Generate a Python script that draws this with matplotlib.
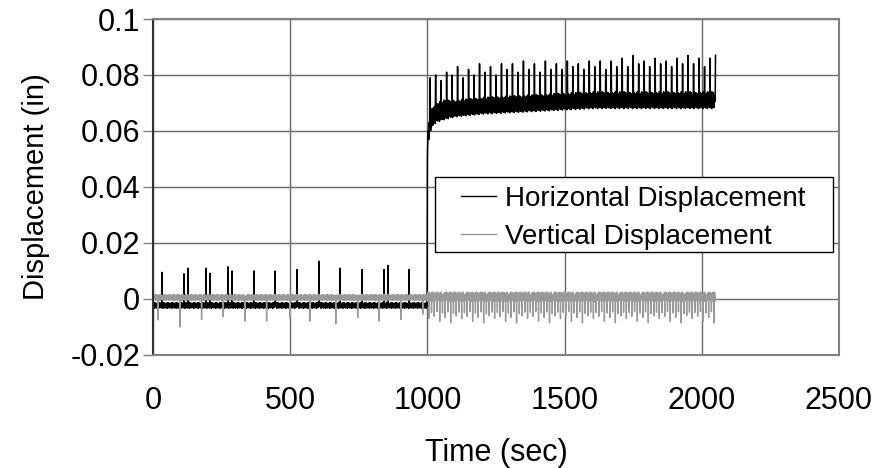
import numpy as np
import matplotlib
matplotlib.use("Agg")
import matplotlib.pyplot as plt
from matplotlib.patches import Rectangle

# ---------------- data ----------------
# sampling of the record (s)
t_start, t_end, t_step = 0.0, 2050.0, 1.0

# Horizontal displacement: band envelope (in)
h_env_t    = [0, 999, 1000, 1003, 1008, 1015, 1030, 1060, 1100, 1200, 1400, 1600, 1800, 2050]
h_env_low  = [-0.0033, -0.0033, 0.050, 0.055, 0.059, 0.061, 0.063, 0.064, 0.065, 0.066, 0.067, 0.068, 0.068, 0.068]
h_env_high = [-0.0013, -0.0013, 0.055, 0.063, 0.066, 0.068, 0.070, 0.071, 0.071, 0.072, 0.073, 0.074, 0.074, 0.074]

# Horizontal displacement: spikes before 1000 s
h_spk1_t = [33, 113, 128, 193, 208, 273, 288, 368, 445, 525, 605, 681, 762, 842, 856, 933]
h_spk1_v = [0.0095, 0.0090, 0.0110, 0.0110, 0.0092, 0.0115, 0.0100, 0.0100, 0.0100, 0.0105,
            0.0135, 0.0110, 0.0105, 0.0105, 0.0120, 0.0105]

# Horizontal displacement: spikes after 1000 s (every ~20 s)
h_spk2_t0, h_spk2_dt = 1010, 20
h_spk2_v = [0.079, 0.080, 0.078, 0.081, 0.080, 0.083, 0.079, 0.082, 0.080, 0.084,
            0.081, 0.083, 0.080, 0.084, 0.082, 0.084, 0.081, 0.085, 0.082, 0.084,
            0.081, 0.085, 0.082, 0.084, 0.082, 0.085, 0.083, 0.084, 0.082, 0.085,
            0.083, 0.085, 0.082, 0.085, 0.083, 0.086, 0.083, 0.087, 0.084, 0.085,
            0.083, 0.086, 0.084, 0.085, 0.083, 0.086, 0.084, 0.087, 0.084, 0.086,
            0.083, 0.086, 0.087]

# Vertical displacement: band envelope (in)
v_env_t    = [0, 999, 1000, 2050]
v_env_low  = [-0.0005, -0.0005, -0.0008, -0.0008]
v_env_high = [0.0016, 0.0016, 0.0025, 0.0025]

# Vertical displacement: downward spikes before 1000 s
v_spk1_t = [19, 98, 177, 256, 335, 414, 499, 572, 666, 746, 824, 903, 983]
v_spk1_v = [-0.0075, -0.0100, -0.0073, -0.0063, -0.0079, -0.0079, -0.0066, -0.0079,
            -0.0089, -0.0066, -0.0079, -0.0073, -0.0054]

# Vertical displacement: downward spikes after 1000 s (every ~10 s)
v_spk2_t0, v_spk2_dt = 1005, 10
v_spk2_pattern = [-0.0070, -0.0048, -0.0062, -0.0045, -0.0080, -0.0050, -0.0066,
                  -0.0046, -0.0085, -0.0052, -0.0060, -0.0047]

# band jitter positions (fraction of band width), cycled
band_frac = [0.5, 0.9, 0.2, 0.7, 0.0, 1.0, 0.35, 0.8, 0.1, 0.6, 0.95, 0.25, 0.55, 0.05, 0.75, 0.4]

x_ticks = [0, 500, 1000, 1500, 2000, 2500]
y_ticks = [-0.02, 0, 0.02, 0.04, 0.06, 0.08, 0.1]
y_ticklabels = ["-0.02", "0", "0.02", "0.04", "0.06", "0.08", "0.1"]

# ---------------- build series ----------------
t = np.arange(t_start, t_end + t_step, t_step)
frac = np.resize(np.array(band_frac), t.size)

h_lo = np.interp(t, h_env_t, h_env_low)
h_hi = np.interp(t, h_env_t, h_env_high)
h = h_lo + frac * (h_hi - h_lo)
for ts, vs in zip(h_spk1_t, h_spk1_v):
    h[np.argmin(np.abs(t - ts))] = vs
h_spk2_t = h_spk2_t0 + h_spk2_dt * np.arange(len(h_spk2_v))
for ts, vs in zip(h_spk2_t, h_spk2_v):
    h[np.argmin(np.abs(t - ts))] = vs

frac_v = np.roll(frac, 5)
v_lo = np.interp(t, v_env_t, v_env_low)
v_hi = np.interp(t, v_env_t, v_env_high)
v = v_lo + frac_v * (v_hi - v_lo)
for ts, vs in zip(v_spk1_t, v_spk1_v):
    v[np.argmin(np.abs(t - ts))] = vs
v_spk2_t = np.arange(v_spk2_t0, t_end, v_spk2_dt)
v_spk2_v = np.resize(np.array(v_spk2_pattern), v_spk2_t.size)
for ts, vs in zip(v_spk2_t, v_spk2_v):
    v[np.argmin(np.abs(t - ts))] = vs

# ---------------- figure ----------------
plt.rcParams['font.family'] = ['Liberation Sans', 'DejaVu Sans']
W, H = 878, 468
fig = plt.figure(figsize=(W / 100, H / 100), dpi=100)
ax = fig.add_axes([153 / W, 1 - 355 / H, (839 - 153) / W, (355 - 19) / H])

ax.set_xlim(0, 2500)
ax.set_ylim(-0.02, 0.1)
ax.set_xticks(x_ticks)
ax.set_yticks(y_ticks)
ax.set_yticklabels(y_ticklabels)

ax.grid(True, color='#6a6a6a', lw=1.0)
ax.set_axisbelow(True)

ln_h, = ax.plot(t, h, color='black', lw=1.1, label='Horizontal Displacement')
ln_v, = ax.plot(t, v, color='#999999', lw=1.0, label='Vertical Displacement')

for s in ['top', 'right', 'bottom']:
    ax.spines[s].set_color('#808080')
    ax.spines[s].set_linewidth(1.5)
ax.spines['left'].set_color('#303030')
ax.spines['left'].set_linewidth(1.5)

ax.tick_params(axis='y', direction='out', length=7.2, width=1.0, color='#808080',
               labelsize=22, pad=2)
ax.tick_params(axis='x', length=0, labelsize=22, pad=22)

ax.set_xlabel('Time (sec)', fontsize=22, labelpad=16)
ax.set_ylabel('Displacement (in)', fontsize=21, labelpad=15)

# legend
fig.patches.append(Rectangle((435 / W, 1 - 252 / H), (833 - 435) / W, (252 - 177) / H,
                             transform=fig.transFigure, facecolor='white',
                             edgecolor='black', lw=1.0, zorder=5))
leg = fig.legend(handles=[ln_h, ln_v], loc='upper left',
                 bbox_to_anchor=(461 / W, 1 - 186 / H), bbox_transform=fig.transFigure,
                 frameon=False, fontsize=20, borderpad=0, borderaxespad=0,
                 handlelength=1.25, handletextpad=0.35, labelspacing=0.42)
for lh in leg.get_lines():
    lh.set_linewidth(1.0)
leg.set_zorder(6)

fig.savefig('out.png', dpi=100)
